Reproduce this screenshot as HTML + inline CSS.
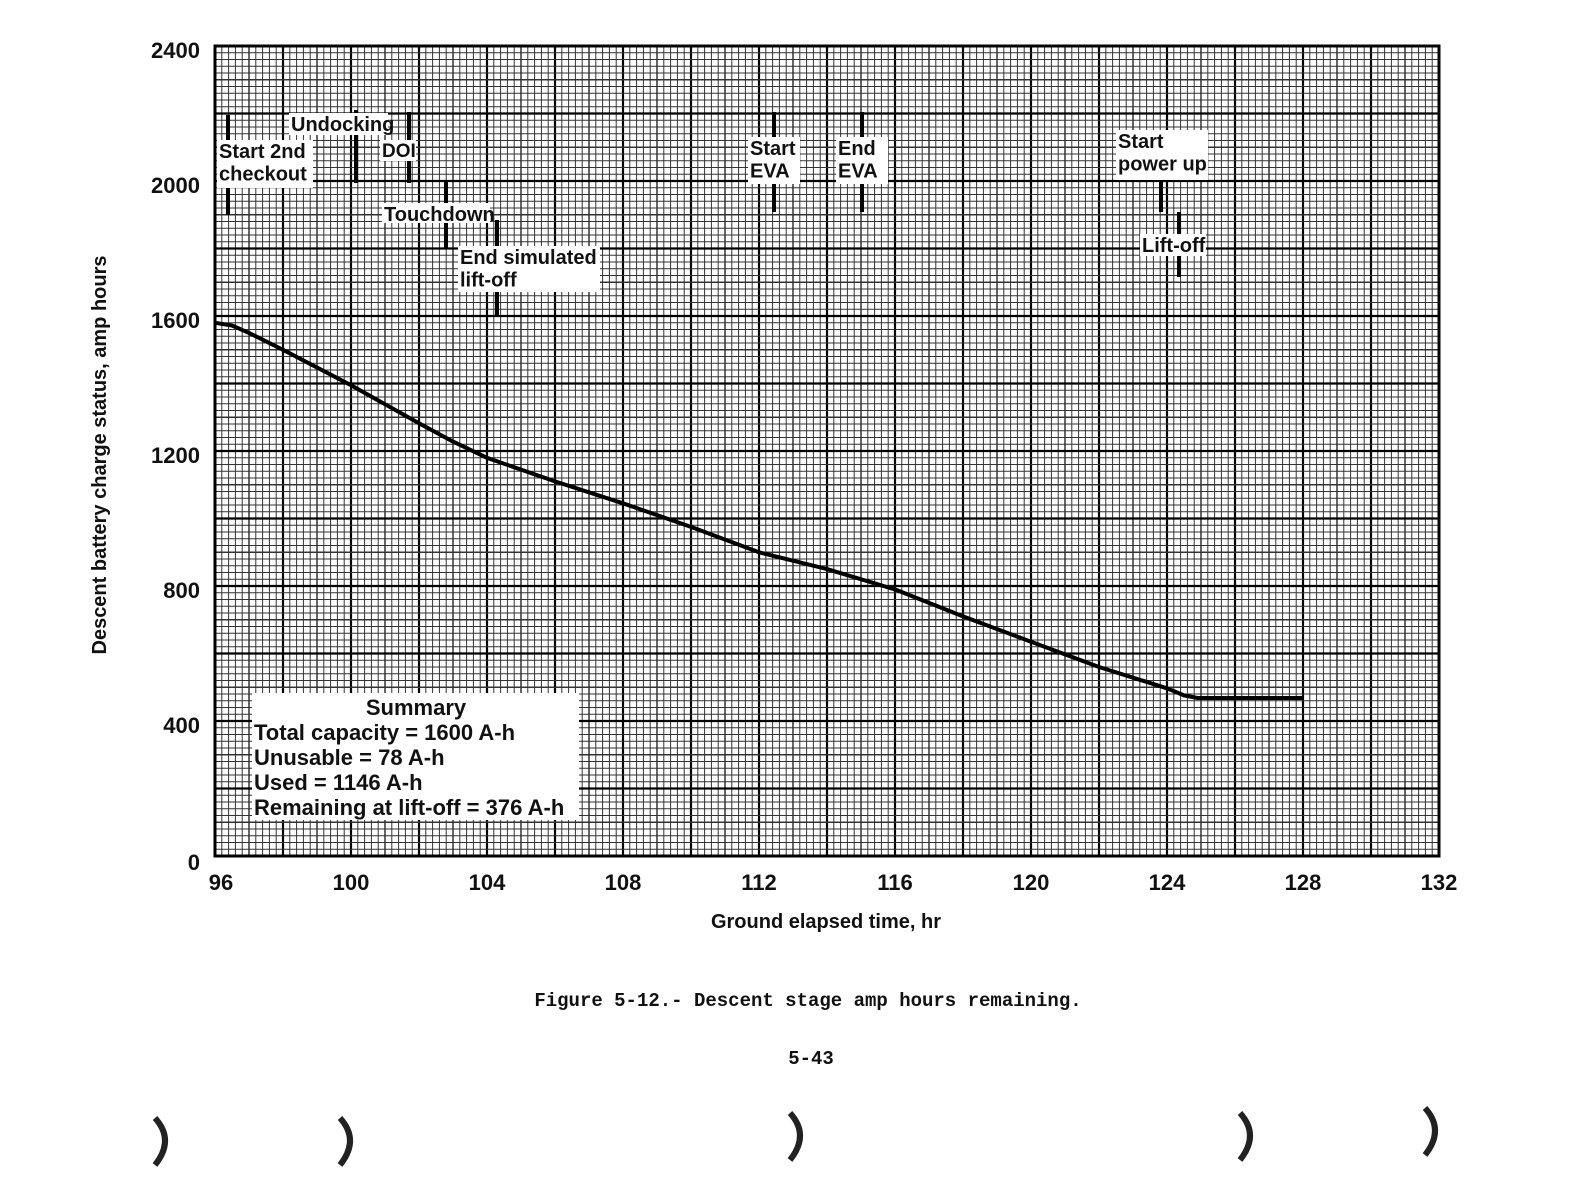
<!DOCTYPE html>
<html><head><meta charset="utf-8"><style>
html,body{margin:0;padding:0;background:#fff;}
body{width:1572px;height:1198px;overflow:hidden;}
svg text{font-family:"Liberation Sans Narrow","Liberation Sans",sans-serif;font-weight:bold;fill:#111;}
</style></head><body>
<svg id="s" width="1572" height="1198" xmlns="http://www.w3.org/2000/svg">
<g id="grid"></g>
<rect x="215" y="46" width="1224" height="810" fill="none" stroke="#000" stroke-width="3"/>
<polyline id="curve" fill="none" stroke="#000" stroke-width="4" stroke-linejoin="round"/>
<g id="marks" stroke="#000" stroke-width="4"></g>
<g id="boxes"></g>
<g font-size="22">
<text x="200" y="58" text-anchor="end">2400</text>
<text x="200" y="193" text-anchor="end">2000</text>
<text x="200" y="328" text-anchor="end">1600</text>
<text x="200" y="463" text-anchor="end">1200</text>
<text x="200" y="598" text-anchor="end">800</text>
<text x="200" y="733" text-anchor="end">400</text>
<text x="200" y="870" text-anchor="end">0</text>
</g>
<g id="xl" font-size="22" text-anchor="middle"></g>
<text x="826" y="928" font-size="20" text-anchor="middle">Ground elapsed time, hr</text>
<text transform="translate(106,455) rotate(-90)" font-size="20" text-anchor="middle">Descent battery charge status, amp hours</text>
<text x="808" y="1006" font-size="19" text-anchor="middle" style="font-family:'Liberation Mono',monospace">Figure 5-12.- Descent stage amp hours remaining.</text>
<text x="811" y="1064" font-size="19" text-anchor="middle" style="font-family:'Liberation Mono',monospace">5-43</text>
<g fill="none" stroke="#222" stroke-width="6">
<path d="M155 1118 Q175 1140 155 1165"/>
<path d="M340 1118 Q360 1140 340 1165"/>
<path d="M790 1113 Q810 1135 790 1160"/>
<path d="M1240 1113 Q1260 1135 1240 1160"/>
<path d="M1425 1108 Q1445 1130 1425 1155"/>
</g>
</svg>
<script>
const NS="http://www.w3.org/2000/svg";
const L=215,R=1439,T=46,B=856;
const X=h=>L+(h-96)*(R-L)/36, Y=a=>B-a*(B-T)/2400;
const g=document.getElementById('grid');
function ln(p,x1,y1,x2,y2,w,c){const e=document.createElementNS(NS,'line');e.setAttribute('x1',x1);e.setAttribute('y1',y1);e.setAttribute('x2',x2);e.setAttribute('y2',y2);e.setAttribute('stroke',c||'#000');e.setAttribute('stroke-width',w);p.appendChild(e);}
for(let i=0;i<=180;i++){const x=L+i*(R-L)/180;const w=i%10==0?2.2:(i%5==0?1.5:1);ln(g,x,T,x,B,w,i%10==0?'#000':'#333');}
for(let i=0;i<=120;i++){const y=B-i*(B-T)/120;const w=i%10==0?2.2:(i%5==0?1.5:1);ln(g,L,y,R,y,w,i%10==0?'#000':'#333');}
const d=[[96,1580],[96.5,1572],[97,1550],[98,1500],[100,1395],[102,1282],[103,1228],[104,1180],[106,1110],[108,1045],[110,975],[112,900],[114,850],[116,790],[118,710],[120,635],[122,560],[124,497],[124.5,476],[124.9,468],[128,468]];
document.getElementById('curve').setAttribute('points',d.map(p=>X(p[0]).toFixed(1)+','+Y(p[1]).toFixed(1)).join(' '));
const m=document.getElementById('marks');
[[228,115,215],[356,110,183],[409,112,183],[446,182,248],[497,220,316],[774,112,212],[862,112,212],[1161,135,212],[1179,212,277]].forEach(a=>ln(m,a[0],a[1],a[0],a[2],4));
const bx=document.getElementById('boxes');
function box(x,y,w,h,lines,fs,anchor){const r=document.createElementNS(NS,'rect');r.setAttribute('x',x);r.setAttribute('y',y);r.setAttribute('width',w);r.setAttribute('height',h);r.setAttribute('fill','#fff');bx.appendChild(r);
lines.forEach((t,i)=>{const e=document.createElementNS(NS,'text');e.setAttribute('x',anchor=='middle'?x+w/2:x+2);e.setAttribute('y',y+fs+i*fs*1.12-2);e.setAttribute('font-size',fs);if(anchor=='middle')e.setAttribute('text-anchor','middle');e.textContent=t;bx.appendChild(e);});}
box(217,140,96,48,['Start 2nd','checkout'],20);
box(289,113,99,22,['Undocking'],20);
box(380,140,36,21,['DOI'],19);
box(382,203,108,20,['Touchdown'],20);
box(458,246,142,46,['End simulated','lift-off'],20);
box(748,137,52,47,['Start','EVA'],20);
box(836,137,52,47,['End','EVA'],20);
box(1116,130,92,50,['Start','power up'],20);
box(1140,234,66,22,['Lift-off'],20);
const r=document.createElementNS(NS,'rect');r.setAttribute('x',252);r.setAttribute('y',693);r.setAttribute('width',327);r.setAttribute('height',127);r.setAttribute('fill','#fff');bx.appendChild(r);
[['Summary',416,715,'middle'],['Total capacity = 1600 A-h',254,740],['Unusable = 78 A-h',254,765],['Used = 1146 A-h',254,790],['Remaining at lift-off = 376 A-h',254,815]].forEach(a=>{const e=document.createElementNS(NS,'text');e.setAttribute('x',a[1]);e.setAttribute('y',a[2]);e.setAttribute('font-size',22);if(a[3])e.setAttribute('text-anchor','middle');e.textContent=a[0];bx.appendChild(e);});
const xl=document.getElementById('xl');
for(let h=96;h<=132;h+=4){const e=document.createElementNS(NS,'text');e.setAttribute('x',X(h)+(h==96?6:0));e.setAttribute('y',890);e.textContent=h;xl.appendChild(e);}
</script>
</body></html>
